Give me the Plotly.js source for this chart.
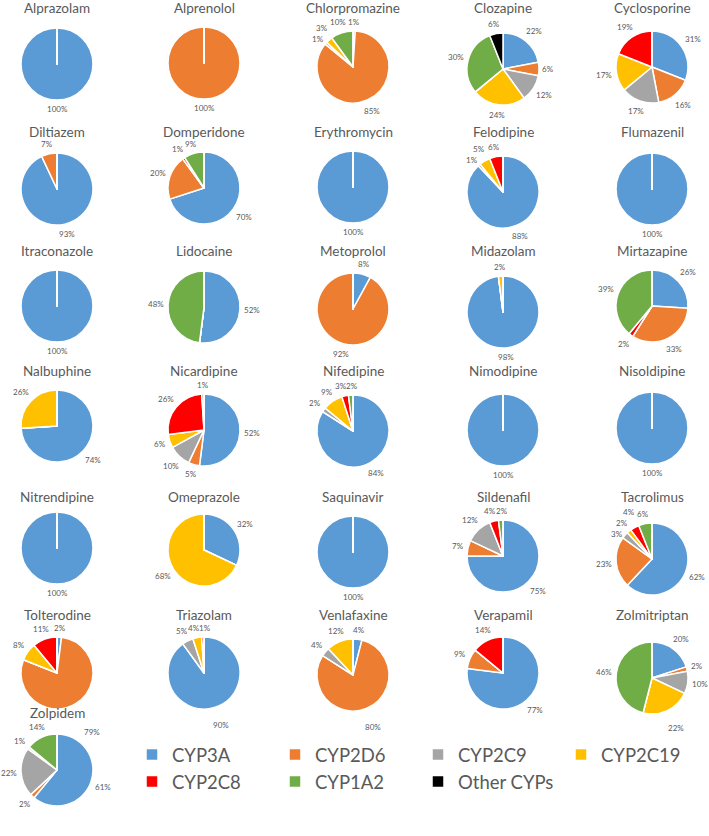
<!DOCTYPE html>
<html><head><meta charset="utf-8">
<script src="https://cdn.plot.ly/plotly-3.0.1.min.js"></script>
<style>html,body{margin:0;padding:0;background:#fff}</style>
</head><body><div id="chart" style="width:709px;height:836px"></div>
<script>
// ---- data ----
const categories = ['CYP3A','CYP2D6','CYP2C9','CYP2C19','CYP2C8','CYP1A2','Other CYPs'];
const drugs = ['Alprazolam','Alprenolol','Chlorpromazine','Clozapine','Cyclosporine',
  'Diltiazem','Domperidone','Erythromycin','Felodipine','Flumazenil',
  'Itraconazole','Lidocaine','Metoprolol','Midazolam','Mirtazapine',
  'Nalbuphine','Nicardipine','Nifedipine','Nimodipine','Nisoldipine',
  'Nitrendipine','Omeprazole','Saquinavir','Sildenafil','Tacrolimus',
  'Tolterodine','Triazolam','Venlafaxine','Verapamil','Zolmitriptan',
  'Zolpidem'];
const cyp3a   = [100,0,1,22,31, 93,70,100,88,100, 100,52,8,98,26, 74,52,84,100,100, 100,32,100,75,62, 2,90,4,77,20, 61];
const cyp2d6  = [0,100,85,6,16, 7,20,0,0,0, 0,0,92,0,33, 0,5,0,0,0, 0,0,0,7,23, 79,0,80,9,2, 2];
const cyp2c9  = [0,0,1,12,17, 0,0,0,1,0, 0,0,0,0,0, 0,10,2,0,0, 0,0,0,12,3, 0,5,4,0,10, 22];
const cyp2c19 = [0,0,3,24,17, 0,0,0,5,0, 0,0,0,2,0, 26,6,9,0,0, 0,68,0,0,2, 8,4,12,0,22, 1];
const cyp2c8  = [0,0,0,0,19, 0,1,0,6,0, 0,0,0,0,2, 0,26,3,0,0, 0,0,0,4,4, 11,1,0,14,0, 0];
const cyp1a2  = [0,0,10,30,0, 0,9,0,0,0, 0,48,0,0,39, 0,1,2,0,0, 0,0,0,2,6, 0,0,0,0,46, 14];
const otherCyps = [0,0,0,6,0, 0,0,0,0,0, 0,0,0,0,0, 0,0,0,0,0, 0,0,0,0,0, 0,0,0,0,0, 0];
const series = [cyp3a, cyp2d6, cyp2c9, cyp2c19, cyp2c8, cyp1a2, otherCyps];

// ---- styling / layout ----
const colors = ['#5B9BD5','#ED7D31','#A5A5A5','#FFC000','#FF0000','#70AD47','#000000'];
const W = 709, H = 836, R = 36;
const colX = [57, 204, 353, 503, 652];
const rowY = [65, 189, 307, 428, 552, 675, 770];
const titleY = [8, 132, 251, 371, 497, 615, 713];
// small per-chart vertical nudges of the pie inside its panel (px)
const cellDy = [ -1,-2,2,4,2,  0,-1,-2,3,0,  -1,0,2,5,-1,  -2,2,3,2,0,  -4,-2,0,4,7,  -2,-2,0,-2,3,  0];
// extra outward distance of labels below the pie (px), per chart
const lowLabelPush = [0,0,0,0,0, 0,0,0,0,0, 0,0,0,0,0, 0,0,0,0,0, 0,0,0,0,0, 20,8,8,0,8, 0];
const grey = '#595959';
const FONT = 'Lato, "Open Sans", sans-serif';
const LBL = 8;

const traces = [];
const annotations = [];

function textW(s) { return (s.length - 1) * LBL * 0.58 + LBL * 0.74; }

drugs.forEach((name, i) => {
  const c = i % 5, r = Math.floor(i / 5);
  const cx = colX[c], cy = rowY[r] + cellDy[i];
  const vals = series.map(s => s[i]);
  traces.push({
    type: 'pie',
    name: name,
    labels: categories,
    values: vals,
    textinfo: 'none',
    sort: false,
    direction: 'clockwise',
    rotation: 0,
    marker: {colors: colors, line: {color: '#ffffff', width: 1.5}},
    domain: {x: [(cx - R) / W, (cx + R) / W], y: [1 - (cy + R) / H, 1 - (cy - R) / H]},
    hoverinfo: 'label+value+name'
  });
  annotations.push({
    text: name, xref: 'paper', yref: 'paper',
    x: cx / W, y: 1 - titleY[r] / H, xanchor: 'center', yanchor: 'middle',
    showarrow: false, font: {family: FONT, size: 13.5, color: grey}
  });

  // data labels placed just outside each slice, along its mid-angle
  const total = vals.reduce((a, b) => a + b, 0);
  let cum = 0;
  const labs = [];
  vals.forEach(v => {
    if (v > 0) {
      const mid = (cum + v / 2) / total * 2 * Math.PI;
      const ux = Math.sin(mid), uy = -Math.cos(mid);
      const txt = v + '%';
      const w = textW(txt), h = 11;
      const ext = Math.abs(ux) * w / 2 + Math.abs(uy) * 5;
      const extra = uy > 0.8 ? lowLabelPush[i] : 0;
      const d = R + 4 + ext + extra;
      labs.push({txt, w, h, ux, x: cx + ux * d, y: cy + uy * d});
    }
    cum += v;
  });
  for (let it = 0; it < 30; it++) {
    for (let a = 0; a < labs.length; a++) for (let b = a + 1; b < labs.length; b++) {
      const A = labs[a], B = labs[b];
      const ox = (A.w + B.w) / 2 + 1 - Math.abs(A.x - B.x);
      const oy = (A.h + B.h) / 2 - Math.abs(A.y - B.y);
      if (ox > 0 && oy > 0) {
        if ((Math.abs(A.ux) + Math.abs(B.ux)) / 2 < 0.45) {
          const lf = A.x <= B.x ? A : B, rt = lf === A ? B : A;
          lf.x -= ox / 2; rt.x += ox / 2;
        } else {
          const top = A.y <= B.y ? A : B, bot = top === A ? B : A;
          top.y -= oy / 2; bot.y += oy / 2;
        }
      }
    }
  }
  labs.forEach(L => annotations.push({
    text: L.txt, xref: 'paper', yref: 'paper',
    x: L.x / W, y: 1 - L.y / H, xanchor: 'center', yanchor: 'middle',
    showarrow: false, font: {family: FONT, size: LBL, color: grey}
  }));
});

const layout = {
  width: W, height: H,
  margin: {l: 0, r: 0, t: 0, b: 0, autoexpand: false},
  paper_bgcolor: '#ffffff',
  showlegend: true,
  legend: {
    orientation: 'h', x: 132 / W, xanchor: 'left', y: 1 - 736 / H, yanchor: 'top',
    entrywidth: 98, entrywidthmode: 'pixels',
    font: {family: FONT, size: 18.5, color: grey},
    bgcolor: 'rgba(0,0,0,0)'
  },
  annotations: annotations
};

Plotly.newPlot('chart', traces, layout, {displayModeBar: false, staticPlot: true});
</script>
</body></html>
